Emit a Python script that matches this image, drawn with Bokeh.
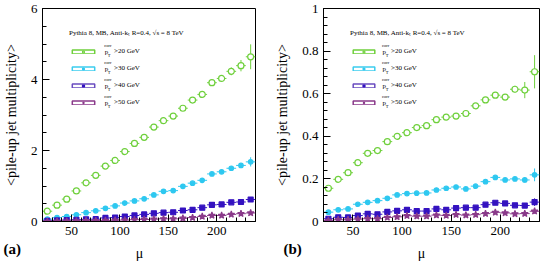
from bokeh.plotting import figure
from bokeh.models import (Range1d, SingleIntervalTicker, ColumnDataSource, Legend,
                          LegendItem, Label, CustomJSTickFormatter)
from bokeh.layouts import row, column
from bokeh.embed import file_html
from bokeh.resources import INLINE

# ---- data -------------------------------------------------------------
mu = [25, 35, 45, 55, 65, 75, 85, 95, 105, 115, 125,
      135, 145, 155, 165, 175, 185, 195, 205, 215, 225, 235]
mu_half_bin = 5

pt_labels = [">20 GeV", ">30 GeV", ">40 GeV", ">50 GeV"]

# (a) pile-up jet multiplicity
a_pt20 = [0.29, 0.46, 0.63, 0.86, 1.09, 1.30, 1.56, 1.72, 1.97, 2.20, 2.37,
          2.66, 2.84, 2.97, 3.19, 3.42, 3.58, 3.91, 4.03, 4.23, 4.39, 4.64]
a_pt20_err = [0.02, 0.02, 0.02, 0.02, 0.02, 0.02, 0.03, 0.03, 0.03, 0.03, 0.04,
              0.04, 0.04, 0.05, 0.05, 0.06, 0.07, 0.08, 0.09, 0.11, 0.16, 0.35]
a_pt30 = [0.065, 0.11, 0.14, 0.19, 0.25, 0.30, 0.37, 0.44, 0.52, 0.58, 0.64,
          0.75, 0.85, 0.87, 0.99, 1.08, 1.16, 1.34, 1.40, 1.50, 1.58, 1.68]
a_pt30_err = [0.01, 0.01, 0.01, 0.01, 0.01, 0.01, 0.01, 0.01, 0.02, 0.02, 0.02,
              0.02, 0.02, 0.02, 0.03, 0.03, 0.03, 0.04, 0.04, 0.05, 0.06, 0.13]
a_pt40 = [0.02, 0.03, 0.04, 0.05, 0.06, 0.065, 0.10, 0.11, 0.14, 0.17, 0.20,
          0.23, 0.25, 0.26, 0.31, 0.33, 0.39, 0.47, 0.48, 0.54, 0.55, 0.62]
a_pt40_err = [0.005, 0.005, 0.005, 0.005, 0.005, 0.005, 0.01, 0.01, 0.01, 0.01, 0.01,
              0.01, 0.01, 0.01, 0.01, 0.02, 0.02, 0.02, 0.02, 0.03, 0.03, 0.05]
a_pt50 = [0.005, 0.01, 0.012, 0.015, 0.02, 0.025, 0.03, 0.035, 0.04, 0.05, 0.056,
          0.065, 0.075, 0.075, 0.09, 0.11, 0.14, 0.17, 0.17, 0.20, 0.22, 0.24]
a_pt50_err = [0.003, 0.003, 0.003, 0.003, 0.004, 0.004, 0.005, 0.005, 0.005, 0.006, 0.006,
              0.007, 0.008, 0.008, 0.009, 0.01, 0.01, 0.012, 0.012, 0.015, 0.02, 0.03]

# (b) pile-up jet multiplicity
b_pt20 = [0.156, 0.198, 0.229, 0.276, 0.320, 0.333, 0.375, 0.400, 0.417, 0.441, 0.450,
          0.478, 0.490, 0.495, 0.507, 0.543, 0.571, 0.593, 0.584, 0.621, 0.617, 0.703]
b_pt20_err = [0.004, 0.004, 0.004, 0.004, 0.004, 0.004, 0.005, 0.005, 0.005, 0.005, 0.006,
              0.006, 0.006, 0.007, 0.007, 0.008, 0.009, 0.010, 0.012, 0.016, 0.038, 0.078]
b_pt30 = [0.044, 0.055, 0.059, 0.081, 0.090, 0.098, 0.109, 0.125, 0.131, 0.133, 0.134,
          0.148, 0.156, 0.162, 0.153, 0.166, 0.187, 0.207, 0.195, 0.200, 0.195, 0.219]
b_pt30_err = [0.002, 0.002, 0.002, 0.002, 0.002, 0.002, 0.003, 0.003, 0.003, 0.003, 0.003,
              0.003, 0.004, 0.004, 0.004, 0.004, 0.005, 0.005, 0.006, 0.008, 0.012, 0.030]
b_pt40 = [0.013, 0.020, 0.019, 0.028, 0.036, 0.034, 0.045, 0.050, 0.055, 0.049, 0.049,
          0.059, 0.055, 0.063, 0.065, 0.065, 0.079, 0.088, 0.085, 0.076, 0.075, 0.091]
b_pt40_err = [0.001, 0.001, 0.001, 0.001, 0.002, 0.002, 0.002, 0.002, 0.002, 0.002, 0.002,
              0.002, 0.002, 0.003, 0.003, 0.003, 0.003, 0.003, 0.004, 0.005, 0.008, 0.018]
b_pt50 = [0.005, 0.008, 0.008, 0.011, 0.013, 0.013, 0.019, 0.022, 0.027, 0.025, 0.025,
          0.030, 0.028, 0.032, 0.030, 0.032, 0.037, 0.043, 0.040, 0.036, 0.037, 0.048]
b_pt50_err = [0.001, 0.001, 0.001, 0.001, 0.001, 0.001, 0.001, 0.001, 0.002, 0.002, 0.002,
              0.002, 0.002, 0.002, 0.002, 0.002, 0.002, 0.003, 0.003, 0.004, 0.005, 0.012]

# ---- styles -----------------------------------------------------------
SERIF = "Liberation Serif"
STYLES = [
    dict(color="#6fd03c", box="#6fd03c", marker="circle", size=6, fill="white"),
    dict(color="#2ec8f0", box="#3ccdee", marker="circle", size=4.5, fill=None),
    dict(color="#3412c0", box="#6a4cc0", marker="square", size=5, fill=None),
    dict(color="#8a3a8a", box="#8a3a8a", marker="star", size=7, fill=None),
]
HEADER = "Pythia 8, MB, Anti-k\u209c R=0.4, \u221as = 8 TeV"

PAGE_W, PAGE_H = 543, 262
STRIP_H = 21                      # caption strip under the two panels
PANEL_H = PAGE_H - STRIP_H
FRAME_W, FRAME_H, FRAME_TOP = 216, 213, 8
X0, X1 = 20, 240
NAN = float("nan")


def build_panel(series, errors, y_max, y_step, y_minor, width, left, right,
                page_left, glyph_w, label_gap):
    frame_left = page_left + left

    def to_data(px, py):
        x = X0 + (px - frame_left) * (X1 - X0) / FRAME_W
        y = y_max - (py - FRAME_TOP) * y_max / FRAME_H
        return x, y

    p = figure(width=width, height=PANEL_H, x_range=Range1d(X0, X1), y_range=Range1d(0, y_max),
               output_backend="svg", toolbar_location=None,
               min_border_left=left, min_border_right=right,
               min_border_top=FRAME_TOP, min_border_bottom=PANEL_H - FRAME_TOP - FRAME_H)
    p.grid.visible = False
    p.outline_line_color = "black"
    p.outline_line_width = 1

    fmt = CustomJSTickFormatter(code="return String(Number(tick.toFixed(2)))")
    p.xaxis.ticker = SingleIntervalTicker(interval=50, num_minor_ticks=5)
    p.yaxis.ticker = SingleIntervalTicker(interval=y_step, num_minor_ticks=y_minor)
    p.yaxis.formatter = fmt
    for ax in (p.xaxis[0], p.yaxis[0]):
        ax.major_tick_in = 7
        ax.major_tick_out = 0
        ax.minor_tick_in = 4
        ax.minor_tick_out = 0
        ax.major_label_text_font = SERIF
        ax.major_label_text_font_size = "13px"
        ax.major_label_text_color = "black"
        ax.major_label_standoff = 5
        ax.axis_line_color = "black"
        ax.major_tick_line_color = "black"
        ax.minor_tick_line_color = "black"
    p.yaxis.axis_label = "<pile-up jet multiplicity>"
    p.yaxis.axis_label_text_font = SERIF
    p.yaxis.axis_label_text_font_size = "14px"
    p.yaxis.axis_label_text_font_style = "normal"
    p.yaxis.axis_label_text_color = "black"
    p.yaxis.axis_label_standoff = 9

    items = []
    for vals, errs, st, lbl in zip(series, errors, STYLES, pt_labels):
        src = ColumnDataSource(dict(
            x=mu, y=vals,
            xl=[m - mu_half_bin for m in mu], xr=[m + mu_half_bin for m in mu],
            lo=[v - e for v, e in zip(vals, errs)], hi=[v + e for v, e in zip(vals, errs)]))
        p.segment(x0="xl", x1="xr", y0="y", y1="y", source=src, line_color=st["color"], line_width=1)
        p.segment(x0="x", x1="x", y0="lo", y1="hi", source=src, line_color=st["color"], line_width=1)
        sc = p.scatter(x="x", y="y", source=src, marker=st["marker"], size=st["size"],
                       line_color=st["color"], line_width=1.2,
                       fill_color=st["fill"] if st["fill"] else st["color"])
        # legend-only outline box (no drawable extent in the plot)
        box = p.quad(left=[NAN], right=[NAN], top=[NAN], bottom=[NAN], fill_color="white",
                     line_color=st["box"], line_width=1.5)
        items.append(LegendItem(label=lbl, renderers=[box, sc]))

    legend = Legend(items=items, location=(27, 115), title=HEADER,
                    glyph_width=glyph_w, glyph_height=5, label_standoff=label_gap,
                    label_height=8, spacing=9, padding=0, margin=0,
                    border_line_alpha=0, background_fill_alpha=0, title_standoff=10,
                    title_text_font=SERIF, title_text_font_size="7px",
                    title_text_font_style="normal", title_text_color="black",
                    label_text_font=SERIF, label_text_font_size="7px",
                    label_text_color="black")
    p.add_layout(legend)

    # p_T^corr symbol in front of each legend label
    p_left = frame_left + 27 + glyph_w + label_gap - 9
    for i in range(len(pt_labels)):
        cy = 50.8 + 17 * i
        for txt, dx, dy, size in (("p", 0, 1, "7px"), ("T", 3.2, 4.6, "4.5px"),
                                  ("corr", -0.5, -5.4, "4.5px")):
            x, y = to_data(p_left + dx, cy + dy)
            p.add_layout(Label(x=x, y=y, text=txt, text_font=SERIF, text_font_size=size,
                               text_align="left", text_baseline="middle", text_color="black"))
    return p


pa = build_panel([a_pt20, a_pt30, a_pt40, a_pt50],
                 [a_pt20_err, a_pt30_err, a_pt40_err, a_pt50_err],
                 6, 2, 4, 271, 39, 16, 0, 28, 17)
pb = build_panel([b_pt20, b_pt30, b_pt40, b_pt50],
                 [b_pt20_err, b_pt30_err, b_pt40_err, b_pt50_err],
                 1, 0.2, 5, 272, 52, 4, 271, 27, 14)

# caption strip: x-axis titles and panel tags, in page pixels
strip = figure(width=PAGE_W, height=STRIP_H, x_range=Range1d(0, PAGE_W),
               y_range=Range1d(0, STRIP_H), output_backend="svg", toolbar_location=None,
               x_axis_type=None, y_axis_type=None, min_border=0)
strip.min_border_left = strip.min_border_right = 0
strip.min_border_top = strip.min_border_bottom = 0
strip.grid.visible = False
strip.outline_line_color = None

for tag, tag_x, mu_x in (("(a)", 3, 139), ("(b)", 283, 421)):
    strip.add_layout(Label(x=mu_x, y=PAGE_H - 252.5, text="\u03bc", text_font=SERIF,
                           text_font_size="14px", text_align="center",
                           text_baseline="alphabetic", text_color="black"))
    strip.add_layout(Label(x=tag_x, y=PAGE_H - 248, text=tag, text_font=SERIF,
                           text_font_size="15px", text_font_style="bold", text_align="left",
                           text_baseline="middle", text_color="black"))

layout = column(row(pa, pb), strip)
open("out.html", "w").write(file_html(layout, INLINE))
